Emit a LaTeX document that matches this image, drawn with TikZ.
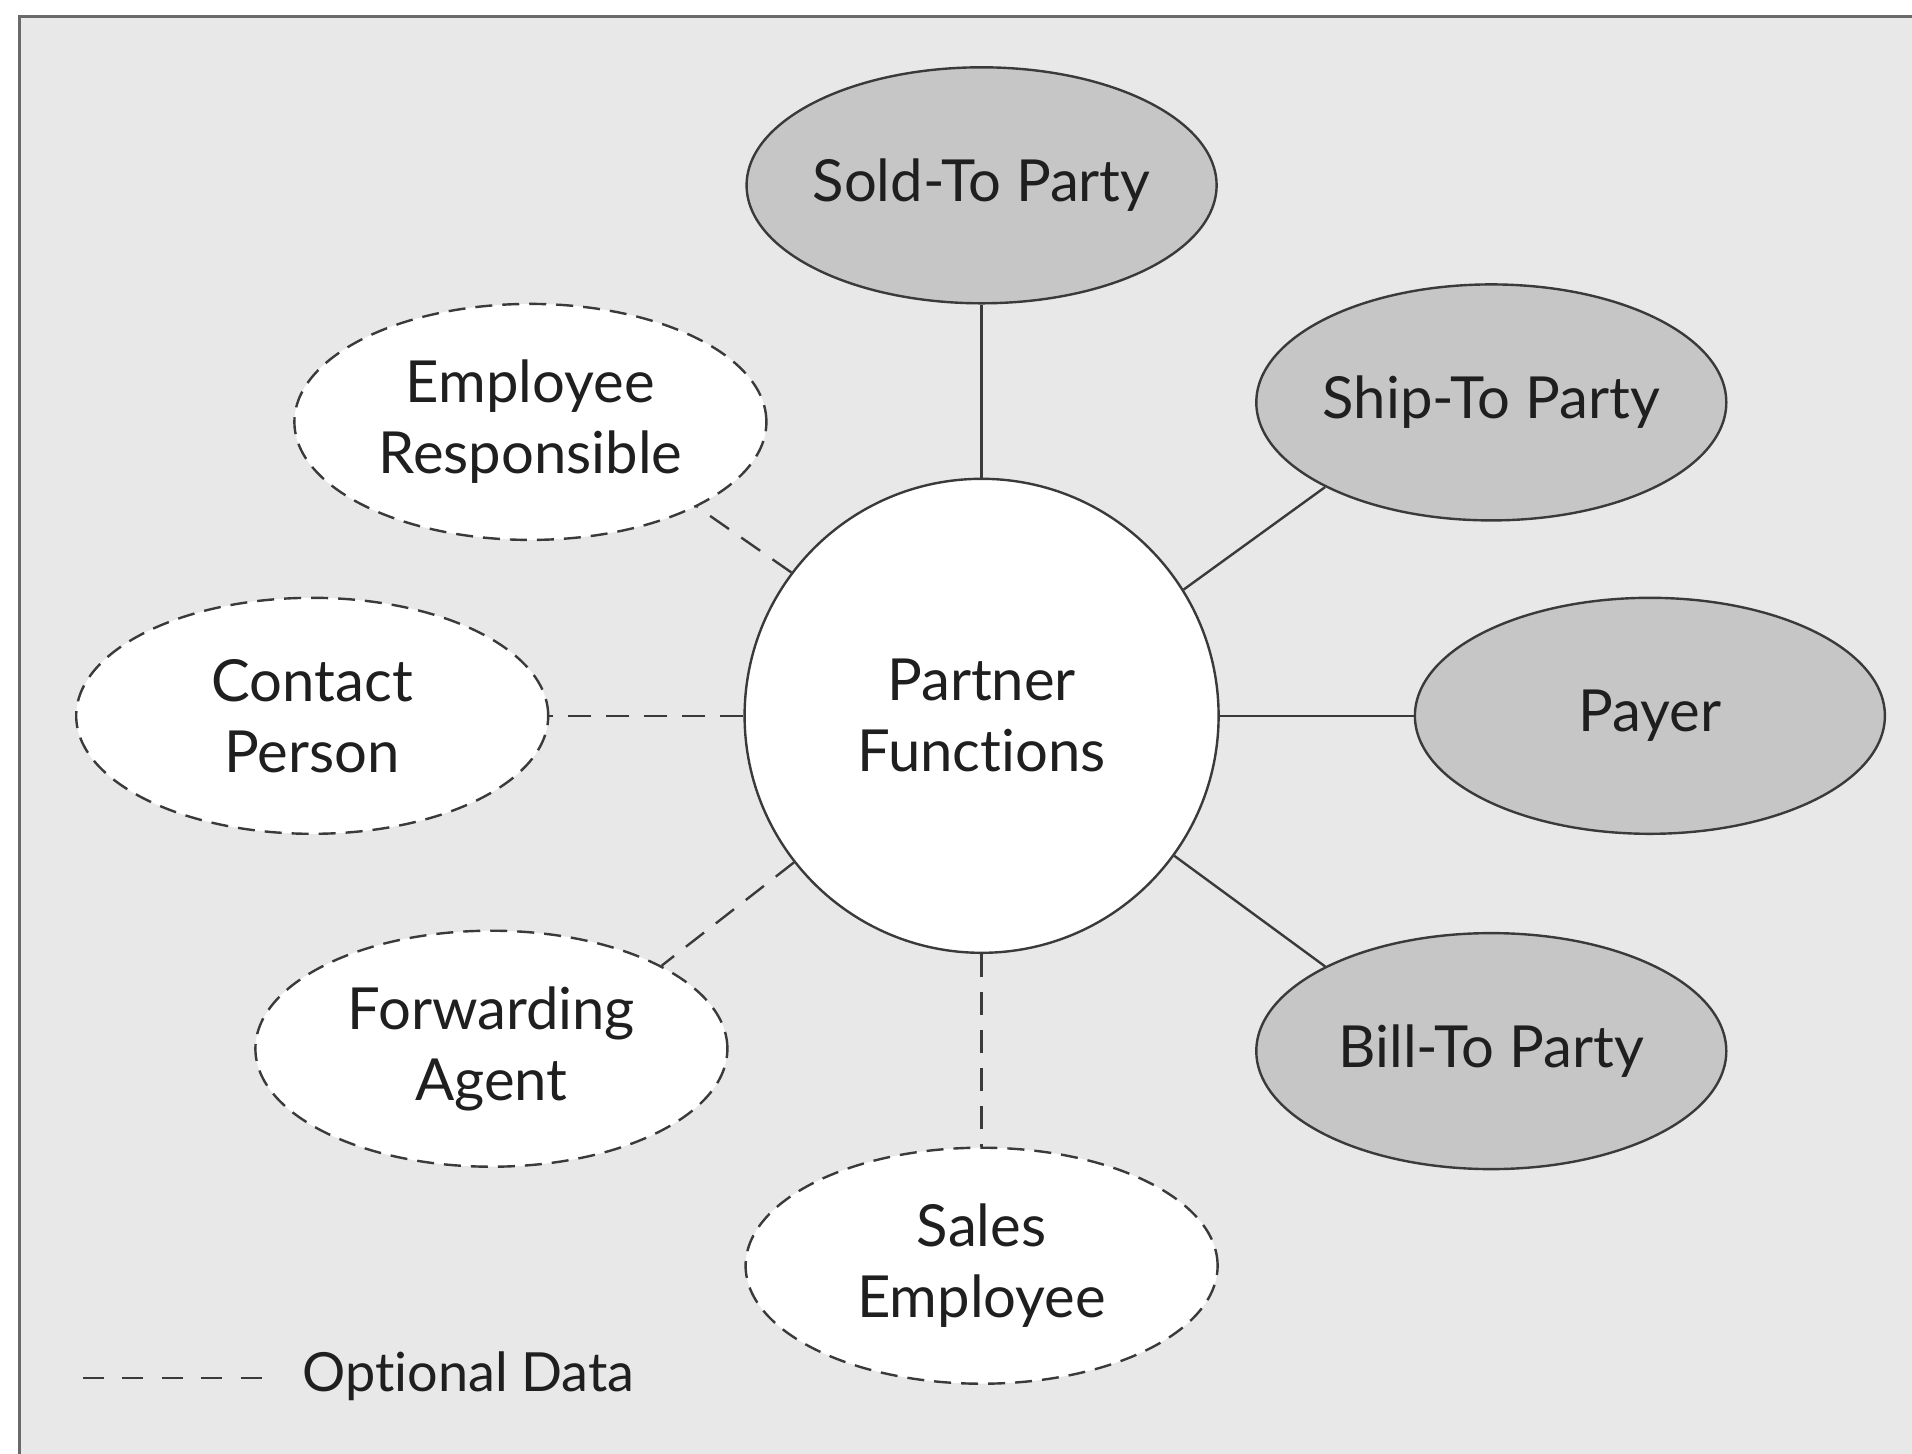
\documentclass[tikz,border=0pt]{standalone}
\usepackage{fontspec}
\setmainfont[Ligatures=NoCommon]{Lato}
\usetikzlibrary{shapes.geometric}
\definecolor{bg}{HTML}{E8E8E8}
\definecolor{req}{HTML}{C6C6C6}
\definecolor{ink}{HTML}{3A3A3A}
\definecolor{frame}{HTML}{6A6A6A}
\newcommand{\pxu}{*0.5pt}
\tikzset{
  txt/.style={font=\fontsize{29}{35.5}\selectfont, text=black!88, align=center, inner sep=0pt},
  reqbox/.style={ellipse, draw=ink, line width=1.2pt, fill=req, minimum width=470\pxu, minimum height=236\pxu, inner sep=0pt, label={[txt]center:#1}},
  optbox/.style={ellipse, draw=ink, line width=1.2pt, fill=white, dash pattern=on 8.5pt off 5pt, minimum width=472\pxu, minimum height=236\pxu, inner sep=0pt, label={[txt]center:#1}},
  centerbox/.style={circle, draw=ink, line width=1.2pt, fill=white, minimum size=474\pxu, inner sep=0pt, label={[txt]center:#1}},
  reqline/.style={draw=ink, line width=1.2pt},
  optline/.style={draw=ink, line width=1.2pt, dash pattern=on 11.5pt off 7.5pt},
}
\begin{document}
\begin{tikzpicture}[x=0.5pt, y=-0.5pt]
\useasboundingbox (0,0) rectangle (1912,1453);
\fill[white] (0,0) rectangle (1912,1453);
\draw[frame, fill=bg, line width=1.5pt] (19,16) rectangle (1940,1480);

\node[centerbox={Partner\\Functions}] (pf) at (981.6,715.8) {};
\node[reqbox={Sold-To Party}] (sold) at (981.6,185.3) {};
\node[reqbox={Ship-To Party}] (ship) at (1491.3,402.4) {};
\node[reqbox={Payer}] (payer) at (1649.9,715.8) {};
\node[reqbox={Bill-To Party}] (bill) at (1491.3,1051.1) {};
\node[optbox={Sales\\Employee}] (sales) at (981.6,1265.7) {};
\node[optbox={Forwarding\\Agent}] (fwd) at (491.4,1048.7) {};
\node[optbox={Contact\\Person}] (contact) at (312.2,715.8) {};
\node[optbox={Employee\\Responsible}] (empresp) at (530.4,421.9) {};

\draw[reqline] (pf.90) -- (sold.-90);
\draw[reqline] (pf.32) -- (ship.207.6);
\draw[reqline] (pf.0) -- (payer.180);
\draw[reqline] (pf.-36.8) -- (bill.153);
\draw[optline] (pf.-90) -- (sales.90);
\draw[optline] (pf.218.3) -- (fwd.26);
\draw[optline] (pf.180) -- (contact.0);
\draw[optline] (pf.143.4) -- (empresp.-27);

\coordinate (lgA) at (83,1378);
\coordinate (lgB) at (263,1378);
\draw[draw=ink, line width=1.3pt, dash pattern=on 10.5pt off 9.2pt] (lgA) -- (lgB);
\node[txt, anchor=west, font=\fontsize{27}{33}\selectfont] (lgtext) at (302,1376) {Optional Data};
\end{tikzpicture}
\end{document}
